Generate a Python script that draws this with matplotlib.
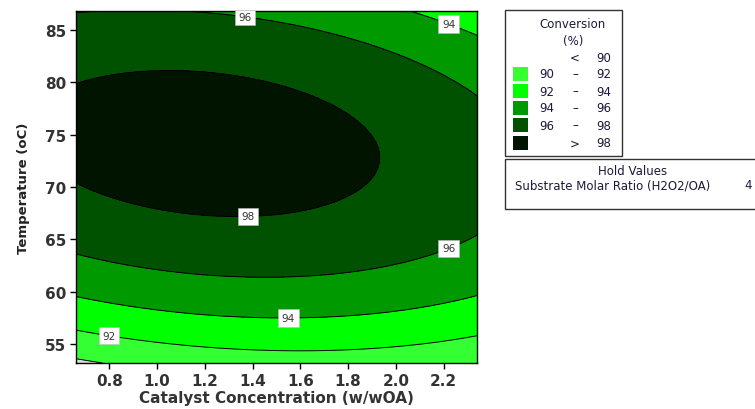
import numpy as np
import matplotlib
matplotlib.use("Agg")
import matplotlib.pyplot as plt
from matplotlib.patches import Rectangle

# Fitted second-order response surface for conversion (%):
# Y = b0 + b1*C + b2*T + b11*C^2 + b22*T^2 + b12*C*T
coef_names = ["b0", "b1", "b2", "b11", "b22", "b12"]
coef_values = [-9.267376, 8.7664367, 2.7752273, -1.6158901, -0.018181254, -0.06623733]

catalyst_range = [0.66, 2.34]
temperature_range = [53.2, 86.8]
levels = [90, 92, 94, 96, 98]
band_colors = ["#dcdcdc", "#33ff33", "#00ff00", "#009900", "#005200", "#001400"]
legend_rows = ["< 90", "90 – 92", "92 – 94", "94 – 96", "96 – 98", "> 98"]
x_ticks = [0.8, 1.0, 1.2, 1.4, 1.6, 1.8, 2.0, 2.2]
y_ticks = [55, 60, 65, 70, 75, 80, 85]
hold_name = "Substrate Molar Ratio (H2O2/OA)"
hold_value = "4"

# contour label anchor points (catalyst, temperature)
label_spots = [(1.37, 86.6), (2.22, 85.5), (1.38, 67.3), (2.22, 64.2), (1.55, 57.5), (0.8, 56.0)]

W, H = 755, 410
fig = plt.figure(figsize=(W / 100, H / 100), dpi=100)
ax = fig.add_axes([76 / W, 1 - 364 / H, (477 - 76) / W, (364 - 12) / H])

c = dict(zip(coef_names, coef_values))
xg = np.linspace(*catalyst_range, 300)
tg = np.linspace(*temperature_range, 300)
X, T = np.meshgrid(xg, tg)
Z = (c["b0"] + c["b1"] * X + c["b2"] * T + c["b11"] * X ** 2
     + c["b22"] * T ** 2 + c["b12"] * X * T)

ax.contourf(X, T, Z, levels=[-1e9] + levels + [1e9], colors=band_colors)
cs = ax.contour(X, T, Z, levels=levels, colors="k", linewidths=0.7)
labels = ax.clabel(cs, fmt="%d", fontsize=7.5, inline=False,
                   manual=label_spots, colors="#333333")
for lb in labels:
    lb.set_rotation(0)
    lb.set_bbox(dict(facecolor="white", edgecolor="#bbbbbb", linewidth=0.4,
                     boxstyle="square,pad=0.35"))

ax.set_xlim(*catalyst_range)
ax.set_ylim(*temperature_range)
ax.set_xticks(x_ticks)
ax.set_xticklabels([f"{v:.1f}" for v in x_ticks])
ax.set_yticks(y_ticks)
ax.tick_params(direction="out", length=4, width=1, labelsize=11, labelcolor="#333333", pad=3)
for tl in ax.get_xticklabels() + ax.get_yticklabels():
    tl.set_fontweight("bold")
for s in ax.spines.values():
    s.set_linewidth(1)
ax.set_xlabel("Catalyst Concentration (w/wOA)", fontsize=11, fontweight="bold", color="#333333", labelpad=2)
ax.set_ylabel("Temperature (oC)", fontsize=9.5, fontweight="bold", color="#222222", labelpad=11)

# legend box
def fx(p): return p / W
def fy(p): return 1 - p / H

txt = dict(fontsize=8.5, color="#1a1a3a", family="DejaVu Sans")
fig.patches.append(Rectangle((fx(505), fy(157)), fx(622) - fx(505), fy(11) - fy(157),
                             transform=fig.transFigure, fill=False, edgecolor="#333333", lw=1))
fig.text(fx(573), fy(24), "Conversion", ha="center", va="center", **txt)
fig.text(fx(573), fy(41), "(%)", ha="center", va="center", **txt)
row_y = [58, 75, 92, 109, 126, 144]
for i, (row, yy) in enumerate(zip(legend_rows, row_y)):
    parts = row.split(" ")
    if len(parts) == 3:
        fig.text(fx(547), fy(yy), parts[0], ha="center", va="center", **txt)
        fig.text(fx(575), fy(yy), parts[1], ha="center", va="center", **txt)
        fig.text(fx(604), fy(yy), parts[2], ha="center", va="center", **txt)
    else:
        fig.text(fx(575), fy(yy), parts[0], ha="center", va="center", **txt)
        fig.text(fx(604), fy(yy), parts[1], ha="center", va="center", **txt)
    if i > 0:
        fig.patches.append(Rectangle((fx(513), fy(yy + 7)), fx(15), 14 / H,
                                     transform=fig.transFigure, facecolor=band_colors[i],
                                     edgecolor="none"))

# hold values box
fig.patches.append(Rectangle((fx(505), fy(210)), fx(760) - fx(505), fy(160) - fy(210),
                             transform=fig.transFigure, fill=False, edgecolor="#333333", lw=1,
                             clip_on=False))
fig.text(fx(633), fy(172), "Hold Values", ha="center", va="center", **txt)
fig.text(fx(515), fy(186), hold_name, ha="left", va="center", **txt)
fig.text(fx(748), fy(186), hold_value, ha="center", va="center", **txt)

fig.savefig("out.png", dpi=100)
